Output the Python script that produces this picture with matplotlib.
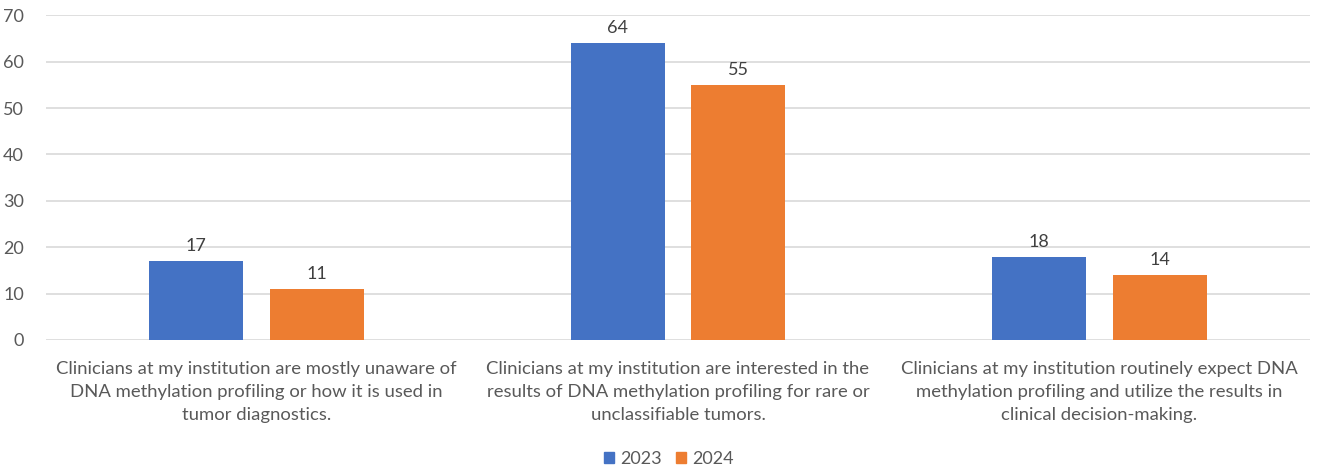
import matplotlib
matplotlib.use("Agg")
import matplotlib.pyplot as plt
import numpy as np
from matplotlib.patches import Patch

categories = [
    "Clinicians at my institution are mostly unaware of\nDNA methylation profiling or how it is used in\ntumor diagnostics.",
    "Clinicians at my institution are interested in the\nresults of DNA methylation profiling for rare or\nunclassifiable tumors.",
    "Clinicians at my institution routinely expect DNA\nmethylation profiling and utilize the results in\nclinical decision-making.",
]
series_names = ["2023", "2024"]
values_2023 = [17, 64, 18]
values_2024 = [11, 55, 14]
yticks = [0, 10, 20, 30, 40, 50, 60, 70]

blue = "#4472C4"
orange = "#ED7D31"
txt = "#595959"

plt.rcParams['font.family'] = ['Lato', 'DejaVu Sans']

fig = plt.figure(figsize=(13.17, 4.71), dpi=100)
ax = fig.add_axes([46/1317, 1-340/471, (1310-46)/1317, (340-15.3)/471])

x = np.arange(len(categories))
w = 0.223
off = 0.143
b1 = ax.bar(x - off, values_2023, w, color=blue, zorder=3)
b2 = ax.bar(x + off, values_2024, w, color=orange, zorder=3)
for bars in (b1, b2):
    for r in bars:
        ax.annotate(f"{int(r.get_height())}", (r.get_x() + r.get_width()/2, r.get_height()),
                    xytext=(0, 5), textcoords="offset points", ha="center", va="bottom",
                    fontsize=13, color="#404040")

ax.set_xlim(-0.5, 2.5)
ax.set_ylim(0, 70)
ax.set_yticks(yticks)
ax.yaxis.grid(True, color="#D9D9D9", linewidth=1.2, zorder=0)
ax.set_axisbelow(True)
for s in ax.spines.values():
    s.set_visible(False)
ax.tick_params(axis="y", length=0, pad=16, labelsize=13, labelcolor=txt)
ax.set_xticks(x)
ax.set_xticklabels(categories, fontsize=13.3, color=txt, linespacing=1.55)
ax.tick_params(axis="x", length=0, pad=15)

handles = [Patch(color=blue, label=series_names[0]), Patch(color=orange, label=series_names[1])]
fig.legend(handles=handles, loc="center", bbox_to_anchor=(669/1317, 1-459/471), ncol=2,
           frameon=False, fontsize=13, labelcolor=txt, handlelength=0.55, handleheight=0.55,
           handletextpad=0.35, columnspacing=0.8)

fig.savefig("out.png", dpi=100)
